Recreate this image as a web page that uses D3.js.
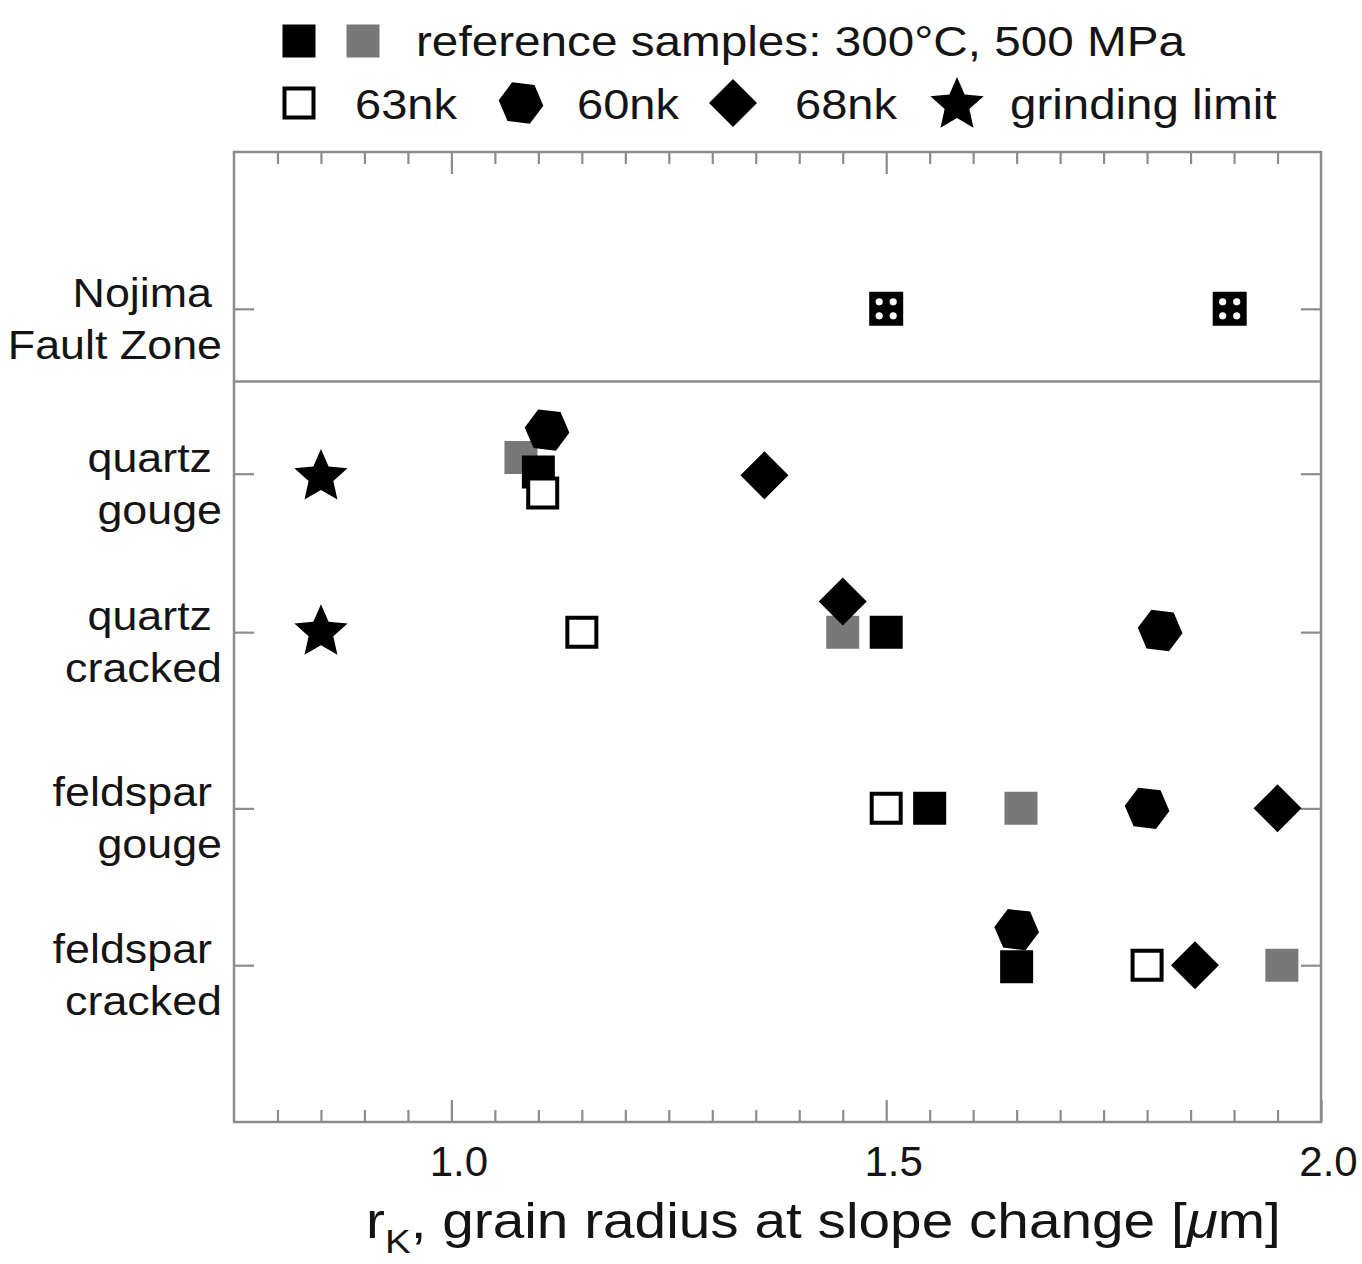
<!DOCTYPE html>
<html><head><meta charset="utf-8">
<script src="https://cdn.jsdelivr.net/npm/d3@7"></script>
<style>
body{margin:0;background:#fff}
text{font-family:"Liberation Sans",Arial,Helvetica,sans-serif;fill:#141414}
</style>
</head><body>
<svg id="c" width="1362" height="1264"></svg>
<script>
// ---- data ----
const categories = [["Nojima","Fault Zone"],["quartz","gouge"],["quartz","cracked"],["feldspar","gouge"],["feldspar","cracked"]];
const categoryLevels = [5.03, 4.01, 3.03, 1.94, 0.97];
const separatorLevel = 4.58;
const xMajorTicks = [1.0, 1.5, 2.0];
const xTickLabels = ["1.0", "1.5", "2.0"];

// reference samples (black)
const refBlackX = [1.10, 1.50, 1.55, 1.65];
const refBlackY = [4.02, 3.03, 1.94, 0.96];
// reference samples (gray)
const refGrayX = [1.08, 1.45, 1.655, 1.955];
const refGrayY = [4.11, 3.03, 1.94, 0.97];
// 63nk
const nk63X = [1.105, 1.15, 1.50, 1.80];
const nk63Y = [3.89, 3.03, 1.94, 0.97];
// 60nk
const nk60X = [1.11, 1.815, 1.80, 1.65];
const nk60Y = [4.28, 3.04, 1.94, 1.19];
// 68nk
const nk68X = [1.36, 1.45, 1.95, 1.855];
const nk68Y = [4.00, 3.22, 1.94, 0.97];
// grinding limit
const grindX = [0.85, 0.85];
const grindY = [3.99, 3.03];
// Nojima Fault Zone
const nojimaX = [1.50, 1.895];
const nojimaY = [5.03, 5.03];

// ---- layout ----
const svg = d3.select("#c");
const L = 234, R = 1321, T = 152, B = 1122;
const x = d3.scaleLinear().domain([0.75, 2.0]).range([L, R]);
const y = d3.scaleLinear().domain([0, 6]).range([B, T]);
const axisCol = "#8c8c8c";
function stretch(sel, k){
  k = k || 1.12;
  sel.each(function(){
    const w = this.getComputedTextLength();
    d3.select(this).attr("textLength", w*k).attr("lengthAdjust","spacingAndGlyphs");
  });
  return sel;
}

// symbol paths (centered at 0,0)
function sqPath(s){const h=s/2;return `M${-h},${-h}H${h}V${h}H${-h}Z`;}
function hexPath(r){let p=[];for(let i=0;i<6;i++){const a=Math.PI/3*i+0.12;p.push([r*Math.cos(a),r*Math.sin(a)]);}return "M"+p.map(q=>q.map(v=>v.toFixed(2)).join(",")).join("L")+"Z";}
function diaPath(r){return `M0,${-r}L${r},0L0,${r}L${-r},0Z`;}
function starPath(ro,ri){let p=[];for(let i=0;i<10;i++){const a=-Math.PI/2+Math.PI/5*i;const r=i%2?ri:ro;p.push([r*Math.cos(a),r*Math.sin(a)]);}return "M"+p.map(q=>q.map(v=>v.toFixed(2)).join(",")).join("L")+"Z";}

const styles = {
  black:{d:sqPath(33), fill:"#000", stroke:"none", sw:0},
  gray:{d:sqPath(33), fill:"#787878", stroke:"none", sw:0},
  open:{d:sqPath(29), fill:"#fff", stroke:"#000", sw:4},
  hex:{d:hexPath(22.5), fill:"#000", stroke:"none", sw:0},
  dia:{d:diaPath(24), fill:"#000", stroke:"none", sw:0},
  star:{d:starPath(28,13), fill:"#000", stroke:"none", sw:0}
};

// frame
svg.append("rect").attr("x",L).attr("y",T).attr("width",R-L).attr("height",B-T)
  .attr("fill","none").attr("stroke",axisCol).attr("stroke-width",2.5);
// separator
svg.append("line").attr("x1",L).attr("x2",R).attr("y1",y(separatorLevel)).attr("y2",y(separatorLevel))
  .attr("stroke",axisCol).attr("stroke-width",2.5);

const minorTicks = x.ticks(25).filter(v => v > 0.76 && v < 1.99 && !xMajorTicks.some(m => Math.abs(m - v) < 1e-6));

function styleAxis(g){
  g.select(".domain").remove();
  g.selectAll(".tick line").attr("stroke",axisCol).attr("stroke-width",2.2);
}
svg.append("g").attr("transform",`translate(0,${B})`)
  .call(d3.axisBottom(x).tickValues(minorTicks).tickSize(-12).tickFormat("")).call(styleAxis);
svg.append("g").attr("transform",`translate(0,${B})`)
  .call(d3.axisBottom(x).tickValues(xMajorTicks).tickSize(-22).tickPadding(24).tickFormat((d,i)=>xTickLabels[i]))
  .call(styleAxis)
  .call(g=>g.selectAll(".tick text").attr("font-size",42).attr("x",7).attr("fill","#141414").attr("font-family","Liberation Sans, Arial, sans-serif"));
svg.append("g").attr("transform",`translate(0,${T})`)
  .call(d3.axisTop(x).tickValues(minorTicks).tickSize(-12).tickFormat("")).call(styleAxis);
svg.append("g").attr("transform",`translate(0,${T})`)
  .call(d3.axisTop(x).tickValues(xMajorTicks.filter(v=>v<2)).tickSize(-22).tickFormat("")).call(styleAxis);
svg.append("g").attr("transform",`translate(${L},0)`)
  .call(d3.axisLeft(y).tickValues(categoryLevels).tickSize(-20).tickFormat("")).call(styleAxis);
svg.append("g").attr("transform",`translate(${R},0)`)
  .call(d3.axisRight(y).tickValues(categoryLevels).tickSize(-20).tickFormat("")).call(styleAxis);

// category labels
categories.forEach((c,i)=>{
  const yy = y(categoryLevels[i]);
  stretch(svg.append("text").attr("x",212).attr("y",yy-2).attr("text-anchor","end").attr("font-size",40).text(c[0]));
  stretch(svg.append("text").attr("x",222).attr("y",yy+50).attr("text-anchor","end").attr("font-size",40).text(c[1]));
});

// points
function plot(xs, ys, st){
  const s = styles[st];
  svg.append("g").selectAll("path").data(xs.map((v,i)=>[v,ys[i]])).join("path")
    .attr("transform",d=>`translate(${x(d[0])},${y(d[1])})`)
    .attr("d",s.d).attr("fill",s.fill).attr("stroke",s.stroke).attr("stroke-width",s.sw);
}
plot(refGrayX, refGrayY, "gray");
plot(refBlackX, refBlackY, "black");
plot(nk63X, nk63Y, "open");
plot(nk60X, nk60Y, "hex");
plot(nk68X, nk68Y, "dia");
plot(grindX, grindY, "star");

// Nojima squares with 4 white dots
const nj = svg.append("g").selectAll("g").data(nojimaX.map((v,i)=>[v,nojimaY[i]])).join("g")
  .attr("transform",d=>`translate(${x(d[0])},${y(d[1])})`);
nj.append("path").attr("d",sqPath(34)).attr("fill","#000");
[[-7,-7],[7,-7],[-7,7],[7,7]].forEach(o=>{
  nj.append("circle").attr("cx",o[0]).attr("cy",o[1]).attr("r",3.6).attr("fill","#fff");
});

// legend
function legSym(cx, cy, st){
  const s = styles[st];
  svg.append("path").attr("transform",`translate(${cx},${cy})`).attr("d",s.d)
    .attr("fill",s.fill).attr("stroke",s.stroke).attr("stroke-width",s.sw);
}
function legText(tx, ty, str, k){
  stretch(svg.append("text").attr("x",tx).attr("y",ty).attr("font-size",42).text(str), k);
}
legSym(299, 41, "black");
legSym(363, 41, "gray");
legText(416, 56, "reference samples: 300°C, 500 MPa", 1.135);
legSym(299, 103, "open");
legText(355, 119, "63nk");
legSym(521, 103, "hex");
legText(577, 119, "60nk");
legSym(733, 103, "dia");
legText(795, 119, "68nk");
legSym(957, 105, "star");
legText(1010, 119, "grinding limit", 1.13);

// x-axis title
const t = svg.append("text").attr("x",366).attr("y",1238).attr("font-size",50);
t.append("tspan").text("r");
t.append("tspan").attr("font-size",34).attr("dy",15).text("K");
t.append("tspan").attr("dy",-15).text(", grain radius at slope change [");
t.append("tspan").attr("font-style","italic").text("μ");
t.append("tspan").text("m]");
stretch(t, 1.135);
</script>
</body></html>
